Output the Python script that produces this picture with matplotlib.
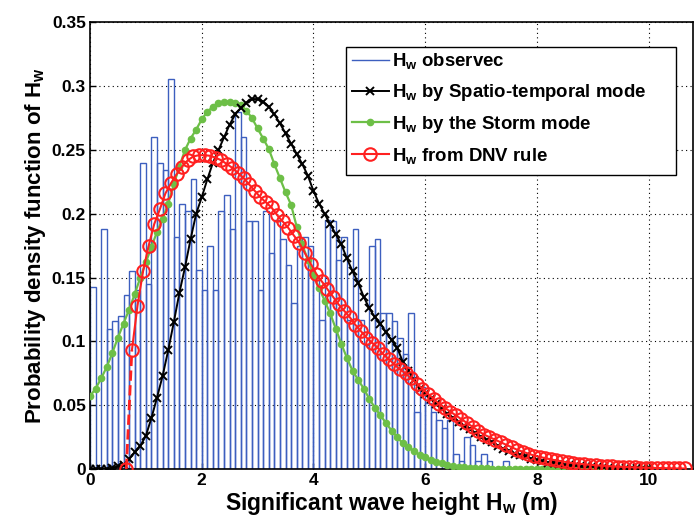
import numpy as np
import matplotlib
matplotlib.use("Agg")
import matplotlib.pyplot as plt
from matplotlib.lines import Line2D
from matplotlib.patches import Rectangle

# ---------------- data ----------------
# observed histogram (bin width 0.1, left edge of first bin at 0)
hist_bin_width = 0.1
hist_heights = [
    0.143, 0.000, 0.188, 0.110, 0.116, 0.120, 0.136, 0.155, 0.140, 0.240,
    0.145, 0.260, 0.240, 0.234, 0.306, 0.182, 0.208, 0.202, 0.227, 0.156,
    0.140, 0.175, 0.140, 0.202, 0.215, 0.188, 0.280, 0.260, 0.194, 0.194,
    0.140, 0.202, 0.169, 0.195, 0.180, 0.160, 0.130, 0.175, 0.182, 0.175,
    0.150, 0.117, 0.195, 0.194, 0.164, 0.182, 0.117, 0.188, 0.117, 0.097,
    0.175, 0.180, 0.122, 0.122, 0.116, 0.103, 0.090, 0.122, 0.045, 0.064,
    0.052, 0.045, 0.038, 0.032, 0.038, 0.012, 0.006, 0.025, 0.019, 0.006,
    0.012, 0.006, 0.000, 0.000, 0.006, 0.000, 0.000, 0.000, 0.000, 0.000,
    0.000, 0.000, 0.006, 0.006,
]

# Spatio-temporal model (x from 0.0 step 0.1)
st_x0, st_step = 0.0, 0.1
st_pdf = [
    0.000, 0.000, 0.000, 0.000, 0.001, 0.002, 0.003, 0.008, 0.013, 0.018,
    0.026, 0.040, 0.056, 0.073, 0.093, 0.115, 0.138, 0.158, 0.180, 0.200,
    0.213, 0.227, 0.240, 0.250, 0.260, 0.270, 0.278, 0.283, 0.287, 0.290,
    0.290, 0.288, 0.284, 0.278, 0.271, 0.263, 0.255, 0.247, 0.239, 0.230,
    0.218, 0.208, 0.200, 0.192, 0.184, 0.176, 0.165, 0.155, 0.146, 0.135,
    0.126, 0.119, 0.114, 0.107, 0.101, 0.095, 0.084, 0.077, 0.070, 0.063,
    0.059, 0.055, 0.051, 0.047, 0.043, 0.040, 0.037, 0.034, 0.031, 0.028,
    0.025, 0.023, 0.021, 0.018, 0.016, 0.014, 0.012, 0.011, 0.010, 0.008,
    0.007, 0.006, 0.005, 0.005, 0.004, 0.003, 0.003, 0.003, 0.002, 0.002,
    0.002, 0.0015, 0.0013, 0.0011, 0.0010, 0.0009, 0.0008, 0.0007, 0.0006, 0.0005,
    0.0004,
]

# Storm model (x from 0.0 step 0.1)
sm_x0, sm_step = 0.0, 0.1
sm_pdf = [
    0.057, 0.063, 0.071, 0.080, 0.091, 0.103, 0.114, 0.125, 0.137, 0.150,
    0.162, 0.174, 0.186, 0.196, 0.208, 0.223, 0.237, 0.250, 0.259, 0.266,
    0.274, 0.280, 0.284, 0.287, 0.288, 0.288, 0.287, 0.285, 0.281, 0.275,
    0.267, 0.259, 0.251, 0.239, 0.228, 0.217, 0.207, 0.190, 0.176, 0.164,
    0.152, 0.142, 0.132, 0.122, 0.110, 0.098, 0.087, 0.077, 0.070, 0.063,
    0.055, 0.048, 0.042, 0.036, 0.030, 0.025, 0.020, 0.017, 0.014, 0.011,
    0.009, 0.007, 0.0057, 0.0045, 0.0033, 0.0023, 0.0017, 0.0012, 0.0010, 0.0007,
    0.0005, 0.0004, 0.0003, 0.0002, 0.0002, 0.0001, 0.0001, 0.0001, 0.0, 0.0,
    0.0, 0.0, 0.0, 0.0, 0.0, 0.0, 0.0, 0.0, 0.0, 0.0,
    0.0, 0.0, 0.0, 0.0, 0.0, 0.0, 0.0, 0.0, 0.0, 0.0,
    0.0,
]

# DNV rule (x from 0.65 step 0.1)
dnv_x0, dnv_step = 0.65, 0.1
dnv_pdf = [
    0.000, 0.093, 0.128, 0.155, 0.175, 0.192, 0.2035, 0.216, 0.224, 0.231,
    0.237, 0.242, 0.245, 0.246, 0.246, 0.2455, 0.244, 0.242, 0.239, 0.236,
    0.232, 0.228, 0.223, 0.218, 0.213, 0.209, 0.205, 0.199, 0.194, 0.189,
    0.183, 0.177, 0.169, 0.161, 0.153, 0.147, 0.141, 0.135, 0.129, 0.124,
    0.119, 0.113, 0.108, 0.103, 0.099, 0.095, 0.090, 0.086, 0.082, 0.078,
    0.075, 0.071, 0.067, 0.063, 0.059, 0.055, 0.051, 0.048, 0.045, 0.042,
    0.039, 0.036, 0.033, 0.030, 0.027, 0.025, 0.023, 0.021, 0.019, 0.017,
    0.015, 0.0135, 0.012, 0.0105, 0.0095, 0.0085, 0.0075, 0.0067, 0.0060, 0.0052,
    0.0046, 0.0041, 0.0037, 0.0033, 0.0029, 0.0026, 0.0023, 0.0020, 0.0018, 0.0016,
    0.0014, 0.0012, 0.0011, 0.0010, 0.0009, 0.0008, 0.0007, 0.0006, 0.0005, 0.0004,
    0.0004,
]

legend_labels = [
    r"H$_{\mathregular{w}}$ observec",
    r"H$_{\mathregular{w}}$ by Spatio-temporal mode",
    r"H$_{\mathregular{w}}$ by the Storm mode",
    r"H$_{\mathregular{w}}$ from DNV rule",
]
x_ticks = [0, 2, 4, 6, 8, 10]
y_ticks = [0, 0.05, 0.1, 0.15, 0.2, 0.25, 0.3, 0.35]
y_ticklabels = ["0", "0.05", "0.1", "0.15", "0.2", "0.25", "0.3", "0.35"]

# ---------------- plot ----------------
plt.rcParams["font.family"] = ["Liberation Sans", "DejaVu Sans"]
plt.rcParams["font.weight"] = "bold"
plt.rcParams["mathtext.default"] = "regular"

BLUE = "#3d5fbf"
GREEN = "#6dbf47"
RED = "#ff2020"

fig = plt.figure(figsize=(6.95, 5.23), dpi=100)
ax = fig.add_axes([0.1295, 0.1033, 0.868, 0.8537])

edges = np.arange(len(hist_heights)) * hist_bin_width
ax.bar(edges, hist_heights, width=hist_bin_width, align="edge",
       facecolor="none", edgecolor=BLUE, linewidth=1.0, zorder=2)

st_x = st_x0 + np.arange(len(st_pdf)) * st_step
sm_x = sm_x0 + np.arange(len(sm_pdf)) * sm_step
dnv_x = dnv_x0 + np.arange(len(dnv_pdf)) * dnv_step

ax.plot(sm_x, sm_pdf, "-", color=GREEN, lw=1.6, marker=".", ms=9, zorder=3)
ax.plot(st_x, st_pdf, "-", color="black", lw=1.4, marker="x", ms=6, mew=1.4, zorder=4)
ax.plot(dnv_x[:2], dnv_pdf[:2], "--", color=RED, lw=2.0, zorder=5)
ax.plot(dnv_x[1:], dnv_pdf[1:], "-", color=RED, lw=1.5, marker="o", ms=9,
        mfc="none", mew=1.5, zorder=5)
ax.plot(dnv_x[:1], dnv_pdf[:1], "none", color=RED, marker="o", ms=9,
        mfc="none", mew=1.5, zorder=5)

# legend (box drawn separately to match the reference's wide frame)
h_obs = Line2D([], [], color=BLUE, lw=1.0)
h_st = Line2D([], [], color="black", lw=1.4, marker="x", ms=6, mew=1.4)
h_sm = Line2D([], [], color=GREEN, lw=1.6, marker=".", ms=9)
h_dnv = Line2D([], [], color=RED, lw=1.5, marker="o", ms=9, mfc="none", mew=1.5)
box = Rectangle((0.4245, 0.658), 0.9718 - 0.4245, 0.945 - 0.658,
                transform=ax.transAxes, facecolor="white", edgecolor="black",
                lw=1.0, zorder=6)
ax.add_patch(box)
leg = ax.legend([h_obs, h_st, h_sm, h_dnv], legend_labels,
                loc="upper left", bbox_to_anchor=(0.4245, 0.948),
                fontsize=13.4, frameon=False, handlelength=2.0, handletextpad=0.15,
                labelspacing=0.58, borderpad=0.3, borderaxespad=0)
leg.set_zorder(7)
for t in leg.get_texts():
    t.set_fontweight("bold")

ax.set_xlim(0, 10.8)
ax.set_ylim(0, 0.35)
ax.set_xticks(x_ticks)
ax.set_yticks(y_ticks)
ax.set_yticklabels(y_ticklabels)
ax.tick_params(direction="in", length=4, width=1, labelsize=12.5, pad=3)
for lab in ax.get_xticklabels() + ax.get_yticklabels():
    lab.set_fontweight("bold")
ax.grid(True, linestyle=(0, (1, 3)), color="black", linewidth=0.8, zorder=0)
ax.set_axisbelow(True)
for s in ax.spines.values():
    s.set_linewidth(1.2)

ax.set_xlabel(r"Significant wave height H$_{\mathregular{w}}$ (m)", fontsize=16.5,
              fontweight="bold", labelpad=1)
ax.set_ylabel(r"Probability density function of H$_{\mathregular{w}}$", fontsize=16,
              fontweight="bold", labelpad=3)

fig.savefig("out.png", dpi=100)
